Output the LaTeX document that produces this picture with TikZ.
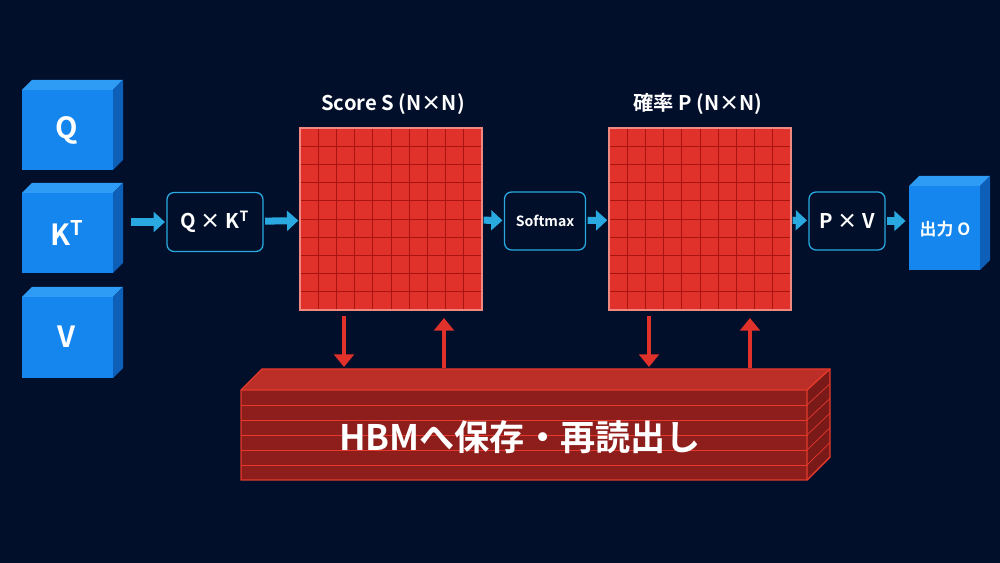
\documentclass[tikz,border=0pt]{standalone}
\usepackage{fontspec}
\setmainfont{Noto Sans CJK JP}[BoldFont={* Bold}]
\usetikzlibrary{arrows.meta,positioning}
\definecolor{bgnavy}{HTML}{020F2B}
\definecolor{cubeblue}{HTML}{1486EE}
\definecolor{cubeside}{HTML}{0D5FB8}
\definecolor{cubetop}{HTML}{2E9BF5}
\definecolor{opcyan}{HTML}{29A9E0}
\definecolor{gridred}{HTML}{E0322A}
\definecolor{gridline}{HTML}{A8150F}
\definecolor{hbmred}{HTML}{8E1E1C}
\definecolor{hbmtop}{HTML}{BC2E28}
\definecolor{hbmline}{HTML}{E5392C}
\tikzset{
  op/.style={draw=opcyan, line width=0.9pt, rounded corners=5pt, fill=bgnavy, text=white, font=\bfseries\Large},
  flow/.style={-{Triangle[length=8pt,width=14pt]}, line width=5pt, draw=opcyan, shorten <=1pt, shorten >=1pt},
  mem/.style={-{Triangle[length=9pt,width=14pt]}, line width=3.5pt, draw=gridred},
  title/.style={text=white, font=\bfseries\Large}
}
\newcommand\BlueCube[4]{% x, y, w, h (front face, top-left)
  \fill[cubetop] (#1,#2) -- ++(10,-10) -- ++(#3,0) -- ++(-10,10) -- cycle;
  \fill[cubeside] (#1+#3,#2) -- ++(10,-10) -- ++(0,#4) -- ++(-10,10) -- cycle;
  \fill[cubeblue] (#1,#2) rectangle ++(#3,#4);}
\newcommand\RedGrid[2]{% x, y (top-left), 182 wide
  \fill[gridred] (#1,#2) rectangle ++(182,182);
  \foreach \k in {1,...,9}{
    \draw[gridline, line width=0.5pt] (#1+18.2*\k,#2) -- ++(0,182);
    \draw[gridline, line width=0.5pt] (#1,#2+18.2*\k) -- ++(182,0);}
  \draw[hbmline!60!white, line width=1pt] (#1,#2) rectangle ++(182,182);}
\begin{document}
\begin{tikzpicture}[x=0.025cm, y=-0.025cm]
\fill[bgnavy] (0,0) rectangle (1000,563);
\useasboundingbox (0,0) rectangle (1000,563);

% input matrices
\BlueCube{22}{90}{91}{80}
\BlueCube{22}{193}{91}{80}
\BlueCube{22}{297}{91}{81}
\node[text=white, font=\bfseries\huge] (q) at (67,130) {Q};
\node[text=white, font=\bfseries\huge] (kt) at (67,233) {K\textsuperscript{T}};
\node[text=white, font=\bfseries\huge] (v) at (67,337) {V};
\coordinate (kout) at (130,222);

% operations
\node[op, minimum width=96*0.025cm, minimum height=59*0.025cm] (qk) at (215,222) {Q × K\textsuperscript{T}};
\node[op, font=\bfseries, minimum width=81*0.025cm, minimum height=58*0.025cm] (soft) at (545,221) {Softmax};
\node[op, minimum width=76*0.025cm, minimum height=58*0.025cm] (pv) at (847,221) {P × V};

% score and probability
\RedGrid{300}{128}
\RedGrid{609}{128}
\node[minimum size=182*0.025cm, inner sep=0pt] (score) at (391,219) {};
\node[minimum size=182*0.025cm, inner sep=0pt] (prob) at (700,219) {};
\node[title] at (393,104) {Score S (N×N)};
\node[title] at (698,104) {確率 P (N×N)};

% output
\BlueCube{909}{186}{71}{84}
\node[text=white, font=\bfseries\large] (out) at (945,229) {出力 O};
\coordinate (oin) at (907,221);

% flow arrows
\draw[flow] (kout) -- (qk);
\draw[flow] (qk) -- (score);
\draw[flow] (score) -- (soft);
\draw[flow] (soft) -- (prob);
\draw[flow] (prob) -- (pv);
\draw[flow] (pv) -- (oin);

% HBM block
\fill[hbmtop] (241,390) -- (262,369) -- (830,369) -- (807,390) -- cycle;
\fill[hbmred!85!black] (807,390) -- (830,369) -- (830,457) -- (807,480) -- cycle;
\fill[hbmred] (241,390) rectangle (807,480);
\foreach \k in {1,...,5}{
  \draw[hbmline, line width=0.6pt] (241,390+15*\k) -- (807,390+15*\k);
  \draw[hbmline, line width=0.5pt] (807,390+15*\k) -- (830,369+14.7*\k);}
\draw[hbmline, line width=1pt] (241,390) -- (262,369) -- (830,369) -- (830,457) -- (807,480) -- (241,480) -- cycle;
\draw[hbmline, line width=1pt] (241,390) -- (807,390) -- (830,369) (807,390) -- (807,480);
\node[text=white, font=\bfseries\fontsize{25}{30}\selectfont] (hbm) at (520,437) {HBMへ保存・再読出し};

% memory traffic
\coordinate (s1) at (344,316); \coordinate (h1) at (344,367);
\coordinate (s2) at (444,318); \coordinate (h2) at (444,368);
\coordinate (p1) at (649,316); \coordinate (h3) at (649,367);
\coordinate (p2) at (750,318); \coordinate (h4) at (750,368);
\draw[mem] (s1) -- (h1);
\draw[mem] (h2) -- (s2);
\draw[mem] (p1) -- (h3);
\draw[mem] (h4) -- (p2);
\end{tikzpicture}
\end{document}
